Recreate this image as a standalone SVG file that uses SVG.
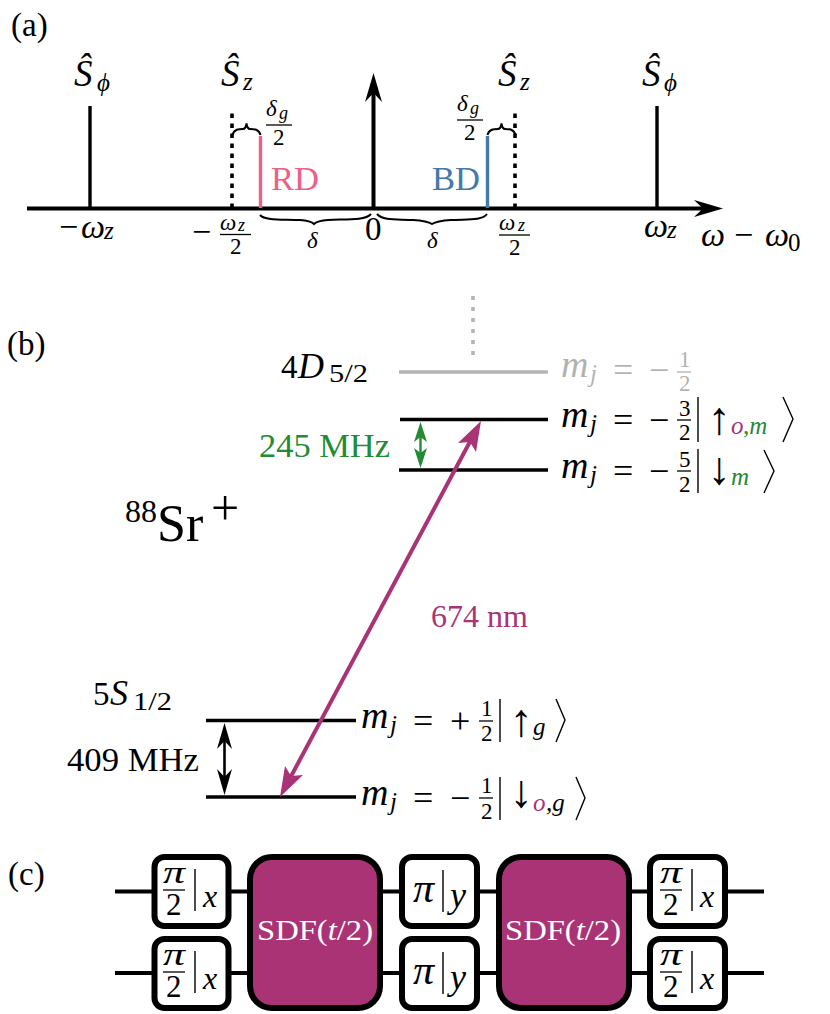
<svg xmlns="http://www.w3.org/2000/svg" width="830" height="1014" viewBox="0 0 830 1014">
<style>
text{font-family:"Liberation Serif","DejaVu Serif",serif;fill:#000}
.i{font-style:italic}
.l{font-size:33px}
.h{font-size:37px}
.o{font-size:33px}
.d{font-size:31px}
.m{font-size:38px}
.e{font-size:36px}
.n{font-size:34px}
.s{font-size:25px}
.t{font-size:23px}
.q{font-size:18px}
.a{font-size:46px;text-anchor:middle}
.pi{font-size:32px}
.x{font-size:32px}
.w{fill:none;stroke:#000;stroke-linecap:butt}
.b{fill:none;stroke:#000;stroke-width:2}
.lv{stroke:#000;stroke-width:3.6}
.g{fill:#fff;stroke:#000;stroke-width:6}
.p{fill:#a93375;stroke:#000;stroke-width:6}
.f{stroke:#000;stroke-width:1.3}
.bar{stroke:#000;stroke-width:1.4}
.ket{fill:none;stroke:#000;stroke-width:1.4}
</style>
<rect width="830" height="1014" fill="#fff"/>
<g id="panel-labels">
<text class="l" x="11" y="36">(a)</text>
<text class="l" x="7" y="355">(b)</text>
<text class="l" x="8" y="885">(c)</text>
</g>
<g id="connectors">
<path class="w" stroke-width="4" d="M27 208.500H705"/>
<path d="M723 208.500L694 200L703 208.500L694 217Z"/>
<path class="w" stroke-width="4" d="M373.500 208V90"/>
<path d="M373.500 73L365 102L373.500 93L382 102Z"/>
<path class="w" stroke-width="3.400" d="M90 208V106"/>
<path class="w" stroke-width="3.400" d="M657 208V106"/>
<path class="w" stroke-width="3.600" stroke-dasharray="4.500 5.500" d="M232 208V110"/>
<path class="w" stroke-width="3.600" stroke-dasharray="4.500 5.500" d="M515 208V110"/>
<path class="w" style="stroke:#ef6182" stroke-width="3.400" d="M260.500 208V136"/>
<path class="w" style="stroke:#4479ae" stroke-width="3.400" d="M487.500 208V136"/>
<path class="b" d="M232.500 135C234 129 239 129 243 129C245 129 246 127 246.500 123.500C247 127 248 129 250 129C254 129 259 129 260.500 135"/>
<path class="b" d="M487.500 135C489 129 494 129 498 129C500 129 501 127 501.500 123.500C502 127 503 129 505 129C509 129 514 129 515.500 135"/>
<path class="b" d="M260 215C265 221 285 219 300 220C308 220.500 312 222 314 224C316 222 320 220.500 328 220C343 219 365 221 371 214"/>
<path class="b" d="M377 214C383 221 398 219 413 220C421 220.500 429 222 432 224C435 222 443 220.500 451 220C466 219 482 221 487 214"/>
<path class="w" style="stroke:#b4b4b4" stroke-width="3.600" stroke-dasharray="4 7" d="M473 296V355"/>
<path class="lv" style="stroke:#b4b4b4" d="M399 372H548"/>
<path class="lv" d="M400 419.500H548"/>
<path class="lv" d="M399 470H548"/>
<path class="lv" d="M206 720.500H356"/>
<path class="lv" d="M206 797H356"/>
<path style="stroke:#228b34;stroke-width:2.400;fill:none" d="M420.500 432V458"/>
<path fill="#228b34" d="M420.500 422L414 442L420.500 437L427 442Z"/>
<path fill="#228b34" d="M420.500 468L414 448L420.500 453L427 448Z"/>
<path class="w" stroke-width="2.600" d="M224.500 735V783"/>
<path d="M224.500 723L217 749L224.500 741L232 749Z"/>
<path d="M224.500 795L217 769L224.500 777L232 769Z"/>
<path style="stroke:#a93375;stroke-width:4;fill:none" d="M473 436L288 782"/>
<path fill="#a93375" d="M481 421L458 443L470 442L476 452Z"/>
<path fill="#a93375" d="M280 797L303 775L291 776L285 766Z"/>
<path class="w" stroke-width="4" d="M115 891.500H764"/>
<path class="w" stroke-width="4" d="M115 973H764"/>
</g>
<g id="spectrum-labels">
<text class="h i" x="74" y="86">Ŝ</text><text class="s i" x="97" y="91">ϕ</text>
<text class="h i" x="221" y="86">Ŝ</text><text class="s i" x="243" y="90">z</text>
<text class="h i" x="498" y="86">Ŝ</text><text class="s i" x="520" y="90">z</text>
<text class="h i" x="642" y="86">Ŝ</text><text class="s i" x="664" y="91">ϕ</text>
<text class="t i" x="266" y="116">δ</text><text x="279" y="119" class="i q">g</text>
<path class="f" d="M266 125H292"/>
<text class="t" x="273" y="145">2</text>
<text class="t i" x="457" y="111">δ</text><text x="470" y="114" class="i q">g</text>
<path class="f" d="M457 120H483"/>
<text class="t" x="464" y="140">2</text>
<text style="fill:#ef6182;font-size:33px" x="271" y="190" textLength="48" lengthAdjust="spacingAndGlyphs">RD</text>
<text style="fill:#4479ae;font-size:33px" x="432" y="190" textLength="48" lengthAdjust="spacingAndGlyphs">BD</text>
<text class="n" x="59" y="238">−</text><text class="n i" x="81" y="238">ω</text><text class="s i" x="104" y="239">z</text>
<text class="n" x="192" y="243">−</text>
<text class="t i" x="220" y="230">ω</text><text x="238" y="231" class="i q">z</text>
<path class="f" d="M220 234.500H251"/>
<text class="t" x="230" y="254">2</text>
<text class="o" x="365" y="240">0</text>
<text class="t i" x="307" y="248">δ</text>
<text class="t i" x="427" y="248">δ</text>
<text class="t i" x="499" y="230">ω</text><text x="518" y="231" class="i q">z</text>
<path class="f" d="M499 235H530"/>
<text class="t" x="509" y="255">2</text>
<text class="n i" x="644" y="237">ω</text><text class="s i" x="667" y="238">z</text>
<text class="n i" x="701" y="246">ω</text><text class="n" x="734" y="246">−</text><text class="n i" x="765" y="246">ω</text><text class="s" x="788" y="251">0</text>
</g>
<g id="level-4D">
<text class="o" x="281" y="378">4</text><text class="e i" x="298" y="378">D</text><text class="s" x="329" y="382" textLength="39" lengthAdjust="spacingAndGlyphs">5/2</text>
</g>
<g id="level-mj-12" style="opacity:.3">
<text class="m i" x="561" y="377">m</text><text class="s i" x="590" y="382">j</text><text class="e" x="613" y="382">=</text><text class="e" x="649" y="382">−</text>
<text class="t" x="679" y="367">1</text><path class="f" d="M677 372H691"/><text class="t" x="679" y="391">2</text>
</g>
<g id="level-mj-32">
<text class="m i" x="561" y="427">m</text><text class="s i" x="590" y="432">j</text><text class="e" x="613" y="432">=</text><text class="e" x="649" y="432">−</text>
<text class="t" x="679" y="416">3</text><path class="f" d="M677 420H691"/><text class="t" x="679" y="440">2</text>
<path class="bar" d="M698 397V442"/>
<text class="a" x="719" y="434">↑</text>
<text class="s i" x="731" y="434" style="fill:#a93375">o</text><text class="s i" x="743" y="434" style="fill:#228b34">,m</text>
<path class="ket" d="M783 397L793 419L783 442"/>
</g>
<g id="level-mj-52">
<text class="m i" x="561" y="478">m</text><text class="s i" x="590" y="483">j</text><text class="e" x="613" y="483">=</text><text class="e" x="649" y="483">−</text>
<text class="t" x="679" y="467">5</text><path class="f" d="M677 471H691"/><text class="t" x="679" y="492">2</text>
<path class="bar" d="M698 449V493"/>
<text class="a" x="719" y="484">↓</text>
<text class="s i" x="731" y="485" style="fill:#228b34">m</text>
<path class="ket" d="M764 450L774 471L764 493"/>
</g>
<g id="label-245">
<text class="n" x="259" y="457" style="fill:#228b34" textLength="131" lengthAdjust="spacingAndGlyphs">245 MHz</text>
</g>
<g id="ion-label">
<text font-size="32" x="125" y="522">88</text><text font-size="52" x="157" y="541">Sr</text><text font-size="50" x="211" y="525">+</text>
</g>
<g id="label-674">
<text x="431" y="627" font-size="32" style="fill:#a93375" textLength="97" lengthAdjust="spacingAndGlyphs">674 nm</text>
</g>
<g id="level-5S">
<text class="o" x="93" y="705">5</text><text class="e i" x="110" y="705">S</text><text class="s" x="133" y="710" textLength="39" lengthAdjust="spacingAndGlyphs">1/2</text>
</g>
<g id="label-409">
<text class="n" x="67" y="771" textLength="132" lengthAdjust="spacingAndGlyphs">409 MHz</text>
</g>
<g id="level-mj-p12">
<text class="m i" x="361" y="728">m</text><text class="s i" x="390" y="733">j</text><text class="e" x="413" y="733">=</text><text class="e" x="450" y="733">+</text>
<text class="t" x="481" y="716">1</text><path class="f" d="M479 721H493"/><text class="t" x="481" y="741">2</text>
<path class="bar" d="M500 699V742"/>
<text class="a" x="521" y="736">↑</text>
<text class="s i" x="533" y="735">g</text>
<path class="ket" d="M556 699L565 720L556 742"/>
</g>
<g id="level-mj-m12">
<text class="m i" x="361" y="805">m</text><text class="s i" x="390" y="810">j</text><text class="e" x="413" y="810">=</text><text class="e" x="450" y="810">−</text>
<text class="t" x="481" y="793">1</text><path class="f" d="M479 798H493"/><text class="t" x="481" y="819">2</text>
<path class="bar" d="M500 777V820"/>
<text class="a" x="521" y="807">↓</text>
<text class="s i" x="533" y="811" style="fill:#a93375">o</text><text class="s i" x="546" y="811">,g</text>
<path class="ket" d="M576 777L585 798L576 820"/>
</g>
<g id="gate-1a"><rect class="g" x="154.500" y="857" width="74" height="69" rx="10"/><text class="pi i" x="163" y="883" textLength="22" lengthAdjust="spacingAndGlyphs">π</text><path class="f" d="M163 890H185"/><text class="d" x="166" y="915">2</text><path class="bar" d="M195 869V911"/><text class="x i" x="203" y="907">x</text></g>
<g id="gate-1b"><rect class="g" x="154.500" y="939" width="74" height="69" rx="10"/><text class="pi i" x="163" y="965" textLength="22" lengthAdjust="spacingAndGlyphs">π</text><path class="f" d="M163 972H185"/><text class="d" x="166" y="997">2</text><path class="bar" d="M195 951V993"/><text class="x i" x="203" y="989">x</text></g>
<g id="sdf-1"><rect class="p" x="250" y="857" width="130" height="151" rx="22"/><text x="257" y="940" font-size="30" style="fill:#fff" textLength="116" lengthAdjust="spacingAndGlyphs">SDF(<tspan class="i">t</tspan>/2)</text></g>
<g id="gate-2a"><rect class="g" x="402" y="857" width="75" height="69" rx="10"/><text class="i" font-size="42" x="413" y="902">π</text><path class="bar" d="M443 870V912"/><text class="e i" x="450" y="907">y</text></g>
<g id="gate-2b"><rect class="g" x="402" y="939" width="75" height="69" rx="10"/><text class="i" font-size="42" x="413" y="984">π</text><path class="bar" d="M443 952V994"/><text class="e i" x="450" y="989">y</text></g>
<g id="sdf-2"><rect class="p" x="499" y="857" width="130" height="151" rx="22"/><text x="505" y="940" font-size="30" style="fill:#fff" textLength="116" lengthAdjust="spacingAndGlyphs">SDF(<tspan class="i">t</tspan>/2)</text></g>
<g id="gate-3a"><rect class="g" x="650" y="857" width="75" height="69" rx="10"/><text class="pi i" x="660" y="883" textLength="22" lengthAdjust="spacingAndGlyphs">π</text><path class="f" d="M660 890H682"/><text class="d" x="663" y="915">2</text><path class="bar" d="M692 869V911"/><text class="x i" x="700" y="907">x</text></g>
<g id="gate-3b"><rect class="g" x="650" y="939" width="75" height="69" rx="10"/><text class="pi i" x="660" y="965" textLength="22" lengthAdjust="spacingAndGlyphs">π</text><path class="f" d="M660 972H682"/><text class="d" x="663" y="997">2</text><path class="bar" d="M692 951V993"/><text class="x i" x="700" y="989">x</text></g>
</svg>
